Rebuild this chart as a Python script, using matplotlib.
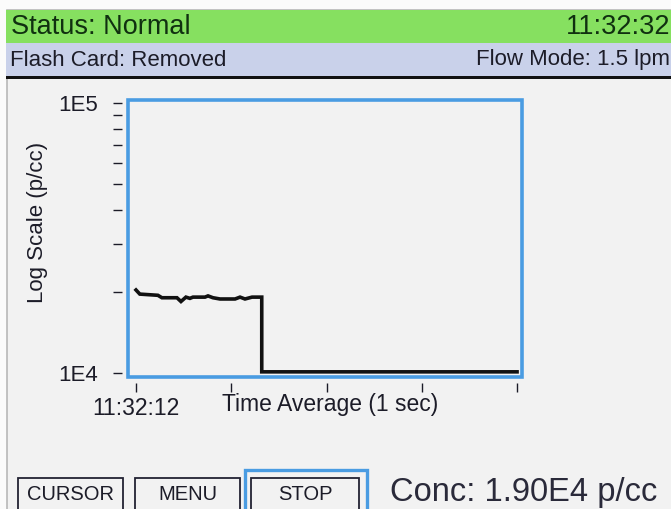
import numpy as np
import matplotlib
matplotlib.use("Agg")
from matplotlib import pyplot as plt
from matplotlib.patches import Rectangle
from matplotlib.ticker import FixedLocator, NullFormatter

# readings from the screen (seconds after 11:32:12, particles per cc)
t_sec = [0.0, 0.2, 1.15, 1.36, 2.15, 2.36, 2.62, 2.83, 2.99, 3.62, 3.78,
         4.04, 4.41, 5.2, 5.46, 5.72, 6.09, 6.6, 6.6, 20.0]
conc = [2.03e4, 1.96e4, 1.94e4, 1.90e4, 1.90e4, 1.84e4, 1.91e4, 1.89e4,
        1.91e4, 1.91e4, 1.93e4, 1.90e4, 1.88e4, 1.88e4, 1.91e4, 1.88e4,
        1.91e4, 1.91e4, 1.01e4, 1.01e4]

x_ticks = [0, 5, 10, 15, 20]
x_tick_labels = ["11:32:12", "", "", "", ""]
y_major = [1e4, 1e5]
y_major_labels = ["1E4", "1E5"]
y_minor = [2e4, 3e4, 4e4, 5e4, 6e4, 7e4, 8e4, 9e4]

W, H = 671, 509
plt.rcParams["font.family"] = ["Liberation Sans", "DejaVu Sans"]
INK = "#1c1c28"
BLUE = "#4a9ce2"


def fx(x):
    return x / W


def fy(y):
    return 1 - y / H


def box(fig, x0, y0, x1, y1, z=1, **kw):
    r = Rectangle((fx(x0), fy(y1)), fx(x1) - fx(x0), fy(y0) - fy(y1),
                  transform=fig.transFigure, zorder=z, **kw)
    fig.patches.append(r)
    return r


fig = plt.figure(figsize=(W / 100, H / 100), dpi=100)
fig.patch.set_facecolor("#fbfbfb")

# screen background
box(fig, 7, 10, W + 5, H + 5, z=-5, facecolor="#f2f2f2", edgecolor="#b8b8b8", lw=1.2)

# status bar and info bar
box(fig, 6, 10, W + 5, 43, facecolor="#86e060", edgecolor="none")
box(fig, 6, 43, W + 5, 76, facecolor="#c9d1ea", edgecolor="none")
box(fig, 6, 76, W + 5, 79, facecolor="#111111", edgecolor="none")

fig.text(fx(11), fy(27), "Status: Normal", fontsize=19.5, color="#103010",
         va="center", ha="left")
fig.text(fx(670), fy(27), "11:32:32", fontsize=19.5, color="#103010",
         va="center", ha="right")
fig.text(fx(10), fy(60), "Flash Card: Removed", fontsize=16, color=INK,
         va="center", ha="left")
fig.text(fx(670), fy(60), "Flow Mode: 1.5 lpm", fontsize=16, color=INK,
         va="center", ha="right")

# chart
ax = fig.add_axes([fx(128), fy(377), fx(522) - fx(128), fy(100) - fy(377)])
ax.set_zorder(3)
ax.set_facecolor("none")
ax.plot(t_sec, conc, color="#111111", lw=2.6, solid_joinstyle="miter")

ax.set_yscale("log")
ax.set_ylim(9665, 1.026e5)
ax.set_xlim(-0.42, 20.26)

for s in ax.spines.values():
    s.set_visible(False)
ax.spines["left"].set_position(("outward", 4))
ax.spines["bottom"].set_position(("outward", 4))
ax.add_patch(Rectangle((0, 0), 1, 1, transform=ax.transAxes, fill=False,
                       edgecolor=BLUE, lw=2.6, clip_on=False, zorder=1))

ax.yaxis.set_major_locator(FixedLocator(y_major))
ax.set_yticklabels(y_major_labels)
ax.yaxis.set_minor_locator(FixedLocator(y_minor))
ax.yaxis.set_minor_formatter(NullFormatter())
ax.tick_params(axis="y", which="both", direction="out", length=6.5, width=1.0,
               color=INK, pad=11, labelsize=16, labelcolor=INK)

ax.set_xticks(x_ticks)
ax.set_xticklabels(x_tick_labels)
ax.tick_params(axis="x", which="both", direction="out", length=6.5, width=1.0,
               color=INK, pad=4, labelsize=16.5, labelcolor=INK)
ax.xaxis.set_minor_locator(FixedLocator([]))

fig.text(fx(330), fy(405), "Time Average (1 sec)", fontsize=16.5, color=INK,
         ha="center", va="center")
fig.text(fx(38), fy(222), "Log Scale (p/cc)", fontsize=16, color=INK,
         ha="center", va="center", rotation=90)

# buttons
box(fig, 18, 478, 123, 512, facecolor="none", edgecolor="#222233", lw=1.3)
box(fig, 135, 478, 240, 512, facecolor="none", edgecolor="#222233", lw=1.3)
box(fig, 245, 470, 367, 512, facecolor="none", edgecolor=BLUE, lw=2.4)
box(fig, 251, 478, 359, 512, facecolor="none", edgecolor="#222233", lw=1.3)
fig.text(fx(70), fy(494), "CURSOR", fontsize=14.5, color=INK, ha="center", va="center")
fig.text(fx(188), fy(494), "MENU", fontsize=14.5, color=INK, ha="center", va="center")
fig.text(fx(305), fy(494), "STOP", fontsize=14.5, color=INK, ha="center", va="center")
fig.text(fx(390), fy(492), "Conc: 1.90E4 p/cc", fontsize=23.5, color="#2a2a3a",
         ha="left", va="center")

fig.savefig("out.png", dpi=100, facecolor=fig.get_facecolor())
